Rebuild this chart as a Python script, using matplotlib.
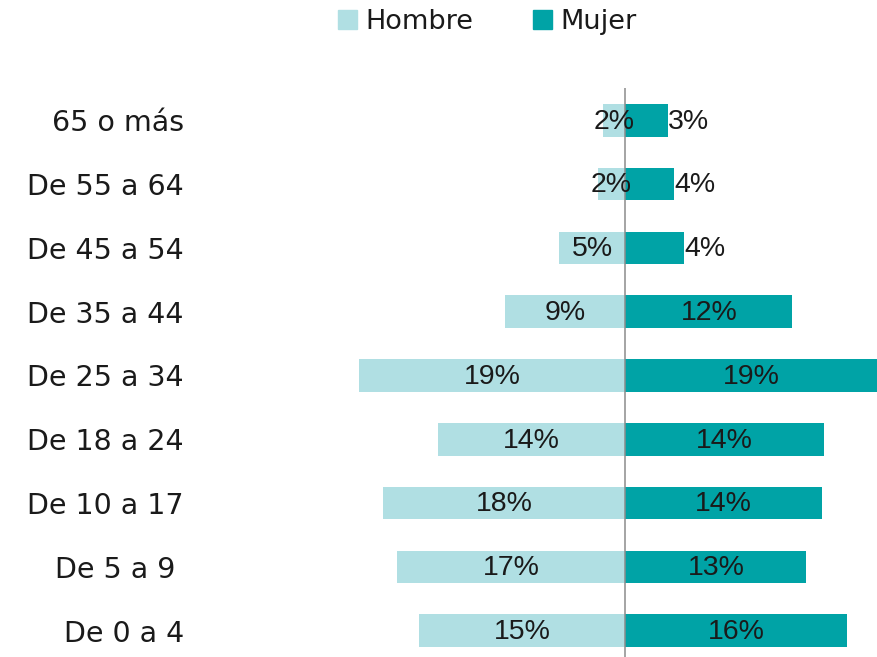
import matplotlib
matplotlib.use("Agg")
import matplotlib.pyplot as plt
from matplotlib.patches import Patch

# age groups, top to bottom
categories = ["65 o más", "De 55 a 64", "De 45 a 54", "De 35 a 44", "De 25 a 34",
              "De 18 a 24", "De 10 a 17", "De 5 a 9 ", "De 0 a 4"]
hombre = [1.57, 1.99, 4.75, 8.6, 19.0, 13.4, 17.33, 16.3, 14.76]
mujer = [3.01, 3.44, 4.18, 11.9, 18.3, 14.17, 14.02, 12.92, 15.81]
hombre_labels = ["2%", "2%", "5%", "9%", "19%", "14%", "18%", "17%", "15%"]
mujer_labels = ["3%", "4%", "4%", "12%", "19%", "14%", "14%", "13%", "16%"]

c_hombre = "#b0dfe3"
c_mujer = "#00a3a6"
txt = "#1a1a1a"

fig = plt.figure(figsize=(8.78, 6.57), dpi=100)
ax = fig.add_axes([195 / 878, -0.0085, 683 / 878, 0.874])

y = list(range(len(categories)))
ax.barh(y, [-v for v in hombre], height=0.51, color=c_hombre)
ax.barh(y, mujer, height=0.51, color=c_mujer)
ax.axvline(0, color="#8c8c8c", lw=1.1)

ax.set_xlim(-30.75, 18.04)
ax.set_ylim(len(categories) - 0.5, -0.5)
ax.set_yticks(y)
ax.set_yticklabels(categories, fontsize=20.5, color=txt, family="DejaVu Sans")
ax.tick_params(axis="y", length=0, pad=8)
ax.set_xticks([])
for s in ax.spines.values():
    s.set_visible(False)

lab_font = dict(fontsize=20.5, color=txt, family="Liberation Sans", va="center")
for i, (h, m) in enumerate(zip(hombre, mujer)):
    yy = i + 0.02
    ax.text(-h / 2, yy, hombre_labels[i], ha="center", **lab_font)
    if m < 5:
        ax.text(m + 0.05, yy, mujer_labels[i], ha="left", **lab_font)
    else:
        ax.text(min(m, 18.04) / 2, yy, mujer_labels[i], ha="center", **lab_font)

handles = [Patch(color=c_hombre, label="Hombre"), Patch(color=c_mujer, label="Mujer")]
fig.legend(handles=handles, loc="center", bbox_to_anchor=(0.555, 0.967), ncol=2,
           frameon=False, prop={"family": "DejaVu Sans", "size": 19.5},
           handlelength=0.7, handleheight=0.7, handletextpad=0.3, columnspacing=2.2,
           labelcolor=txt)

fig.savefig("out.png", dpi=100)
